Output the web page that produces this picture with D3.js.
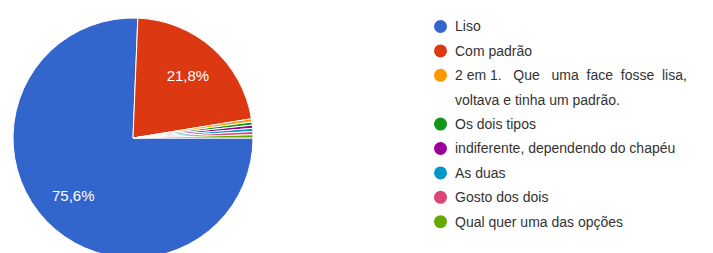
<!DOCTYPE html>
<html>
<head>
<meta charset="utf-8">
<script src="https://cdn.jsdelivr.net/npm/d3@7"></script>
<style>
  body { margin: 0; background: #fff; }
  text { font-family: "Liberation Sans", Arial, sans-serif; }
</style>
</head>
<body>
<div id="chart"></div>
<script>
// respostas
var categories = ["Liso", "Com padrão", "2 em 1. Que uma face fosse lisa, voltava e tinha um padrão.",
                  "Os dois tipos", "indiferente, dependendo do chapéu", "As duas",
                  "Gosto dos dois", "Qual quer uma das opções"];
var values = [177, 51, 1, 1, 1, 1, 1, 1];
var legendLines = [["Liso"], ["Com padrão"], ["2 em 1.   Que   uma  face  fosse  lisa,", "voltava e tinha um padrão."],
                   ["Os dois tipos"], ["indiferente, dependendo do chapéu"], ["As duas"],
                   ["Gosto dos dois"], ["Qual quer uma das opções"]];
var colors = ["#3366cc", "#dc3912", "#ff9900", "#109618", "#990099", "#0099c6", "#dd4477", "#66aa00"];

var width = 713, height = 253;
var cx = 133, cy = 138, radius = 120;

var svg = d3.select("#chart").append("svg")
    .attr("width", width)
    .attr("height", height);

var color = d3.scaleOrdinal().domain(categories).range(colors);

var pie = d3.pie()
    .sort(null)
    .value(function(d, i){ return values[i]; })
    .startAngle(Math.PI / 2)
    .endAngle(Math.PI / 2 + 2 * Math.PI);

var arcs = pie(categories);
var total = d3.sum(values);

var arc = d3.arc().innerRadius(0).outerRadius(radius);
var labelArc = d3.arc().innerRadius(radius * 0.69).outerRadius(radius * 0.69);

var g = svg.append("g").attr("transform", "translate(" + cx + "," + cy + ")");

g.selectAll("path")
    .data(arcs)
    .enter().append("path")
    .attr("d", arc)
    .attr("fill", function(d){ return color(d.data); })
    .attr("stroke", "#fff")
    .attr("stroke-width", 1);

var fmt = function(v){ return (v * 100).toFixed(1).replace(".", ",") + "%"; };

g.selectAll("text.lbl")
    .data(arcs.filter(function(d){ return d.value / total > 0.05; }))
    .enter().append("text")
    .attr("class", "lbl")
    .attr("transform", function(d){ return "translate(" + labelArc.centroid(d) + ")"; })
    .attr("text-anchor", "middle")
    .attr("dy", "0.35em")
    .attr("fill", "#fff")
    .style("font-size", "15px")
    .text(function(d){ return fmt(d.value / total); });

// legenda
var lx = 440.5, ly0 = 26.5, step = 24.4;
var rowStart = [];
var r = 0;
legendLines.forEach(function(l){ rowStart.push(r); r += l.length; });

var leg = svg.append("g");
var items = leg.selectAll("g.item")
    .data(categories)
    .enter().append("g")
    .attr("class", "item")
    .attr("transform", function(d, i){ return "translate(" + lx + "," + (ly0 + rowStart[i] * step) + ")"; });

items.append("circle")
    .attr("r", 6.5)
    .attr("fill", function(d){ return color(d); });

items.each(function(d, i){
    var t = d3.select(this).append("text")
        .attr("x", 14.5)
        .attr("fill", "#333")
        .style("font-size", "14px")
        .style("white-space", "pre");
    legendLines[i].forEach(function(line, j){
        t.append("tspan")
            .attr("x", 14.5)
            .attr("y", j * step)
            .attr("dy", "0.35em")
            .text(line);
    });
});
</script>
</body>
</html>
